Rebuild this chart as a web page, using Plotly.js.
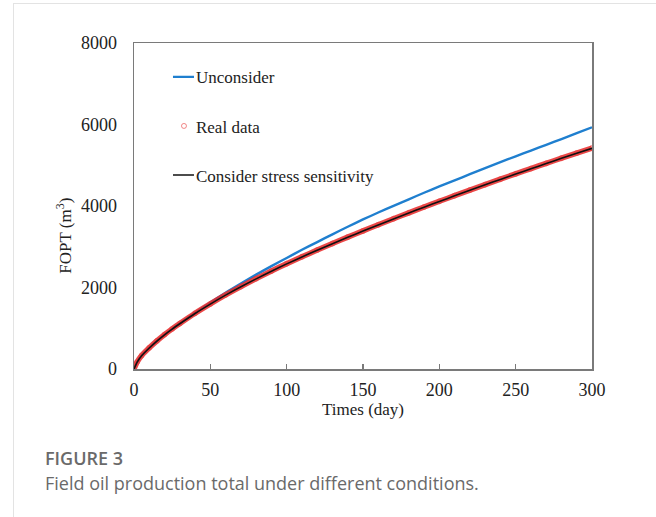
<!DOCTYPE html>
<html>
<head>
<meta charset="utf-8">
<script src="https://cdn.plot.ly/plotly-3.0.1.min.js"></script>
<style>
  html, body { margin: 0; padding: 0; background: #fff; width: 656px; height: 517px; overflow: hidden; }
  #card { position: absolute; left: 13px; top: 3px; width: 760px; height: 640px; border: 1px solid #e3e3e3; box-sizing: border-box; }
  #chart { position: absolute; left: 0; top: 0; width: 656px; height: 517px; }
  #fig { position: absolute; left: 45px; top: 445px; font-family: "Open Sans", "Noto Sans", sans-serif; font-size: 18px; font-weight: 600; color: #6a6a6a; line-height: 26px; }
  #cap { position: absolute; left: 45px; top: 470px; font-family: "Open Sans", "Noto Sans", sans-serif; font-size: 18px; color: #6a6a6a; line-height: 26px; }
</style>
</head>
<body>
<div id="card"></div>
<div id="chart"></div>
<div id="fig">FIGURE 3</div>
<div id="cap">Field oil production total under different conditions.</div>
<script>
// Days
const days = [0, 2, 5, 10, 15, 20, 25, 30, 40, 50, 60, 70, 80, 90, 100, 110, 120, 130, 140, 150, 160, 170, 180, 190, 200, 210, 220, 230, 240, 250, 260, 270, 280, 290, 300];
// FOPT without stress sensitivity (m3)
const unconsider = [0, 170, 330, 520, 690, 845, 985, 1120, 1380, 1630, 1870, 2095, 2315, 2525, 2725, 2925, 3115, 3305, 3490, 3670, 3840, 4005, 4165, 4325, 4480, 4630, 4780, 4930, 5075, 5220, 5360, 5500, 5642, 5788, 5931];
// FOPT considering stress sensitivity (m3)
const considerStress = [0, 165, 325, 515, 685, 840, 980, 1110, 1362, 1592, 1812, 2017, 2212, 2399, 2580, 2749, 2914, 3074, 3231, 3384, 3535, 3683, 3828, 3971, 4111, 4249, 4386, 4520, 4653, 4784, 4914, 5042, 5169, 5295, 5416];
// Real (observed) FOPT (m3)
const realData = [0, 168, 330, 520, 690, 845, 985, 1115, 1367, 1597, 1817, 2022, 2217, 2404, 2585, 2754, 2919, 3079, 3236, 3389, 3540, 3688, 3833, 3976, 4116, 4254, 4391, 4525, 4658, 4789, 4919, 5047, 5174, 5300, 5420];

const xTicks = [0, 50, 100, 150, 200, 250, 300];
const yTicks = [0, 2000, 4000, 6000, 8000];

const serif = "'Liberation Serif', 'Times New Roman', serif";

const traces = [
  {
    x: days, y: unconsider, name: 'Unconsider', mode: 'lines',
    line: { color: '#1f7fcf', width: 2.4, shape: 'spline', smoothing: 0.6 }, legendgroup: 'a'
  },
  {
    x: days, y: realData, name: 'Real data band', mode: 'lines',
    line: { color: 'rgba(232,40,40,0.85)', width: 5.5, shape: 'spline', smoothing: 0.6 }, showlegend: false, legendgroup: 'b', hoverinfo: 'skip'
  },
  {
    x: days, y: realData, name: 'Real data', mode: 'markers',
    marker: { symbol: 'circle-open', size: 5, color: 'rgba(232,60,60,0.6)', line: { width: 1 } }, legendgroup: 'b'
  },
  {
    x: days, y: considerStress, name: 'Consider stress sensitivity', mode: 'lines',
    line: { color: '#111111', width: 1.6, shape: 'spline', smoothing: 0.6 }, legendgroup: 'c'
  }
];

const layout = {
  width: 656, height: 517,
  margin: { l: 134, r: 64, t: 43, b: 148 },
  paper_bgcolor: 'rgba(0,0,0,0)',
  plot_bgcolor: '#ffffff',
  showlegend: true,
  font: { family: serif, size: 17, color: '#222' },
  legend: {
    x: 0.048, y: 0.95, xanchor: 'left', yanchor: 'top',
    bgcolor: 'rgba(0,0,0,0)', borderwidth: 0,
    font: { family: serif, size: 17, color: '#222' },
    tracegroupgap: 24, traceorder: 'grouped'
  },
  xaxis: {
    range: [0, 300], tickvals: xTicks, ticktext: xTicks.map(String),
    showgrid: false, zeroline: false,
    showline: true, linecolor: '#7a7a7a', linewidth: 1.5, mirror: true,
    ticks: 'inside', ticklen: 5, tickcolor: '#7a7a7a', tickwidth: 1.2,
    ticklabelstandoff: 4,
    tickfont: { family: serif, size: 18, color: '#222' },
    title: { text: 'Times (day)', font: { family: serif, size: 17, color: '#222' }, standoff: 4 }
  },
  yaxis: {
    range: [0, 8000], tickvals: yTicks, ticktext: yTicks.map(String),
    showgrid: false, zeroline: false,
    showline: true, linecolor: '#7a7a7a', linewidth: 1.5, mirror: true,
    ticks: '', ticklabelstandoff: 12,
    tickfont: { family: serif, size: 18, color: '#222' }
  },
  annotations: [
    {
      text: 'FOPT (m<sup>3</sup>)', textangle: -90, showarrow: false,
      xref: 'paper', yref: 'paper', x: -0.152, y: 0.41, xanchor: 'center', yanchor: 'middle',
      font: { family: serif, size: 17, color: '#222' }
    }
  ]
};

Plotly.newPlot('chart', traces, layout, { displayModeBar: false, staticPlot: true }).then(function (gd) {
  // shorten legend line symbols to match the reference's short dashes
  gd.querySelectorAll('.legendlines path').forEach(function (p) { p.setAttribute('d', 'M17,0h21'); });
  gd.querySelectorAll('.legendpoints path').forEach(function (p) {
    const t = p.getAttribute('transform') || '';
    p.setAttribute('transform', t.replace(/translate\(([^,]+),/, 'translate(28,'));
  });
});
</script>
</body>
</html>
